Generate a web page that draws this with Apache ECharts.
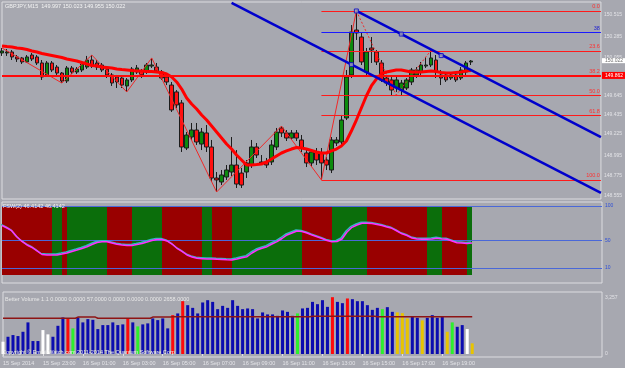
<!DOCTYPE html>
<html><head><meta charset="utf-8">
<script src="https://cdn.jsdelivr.net/npm/echarts@6/dist/echarts.min.js"></script>
<style>html,body{margin:0;padding:0;background:#a7a8b0;}#c{width:625px;height:368px;}</style>
</head><body><div id="c"></div>
<script>
// ---- main chart data (GBPJPY M15) : [open, close, low, high]
const ohlc = [
[150.103,150.125,150.071,150.157],[150.103,150.114,150.071,150.146],[150.114,150.060,150.027,150.135],
[150.060,150.038,150.006,150.081],[150.049,150.006,149.984,150.060],[150.006,150.060,149.995,150.081],
[150.081,150.038,150.016,150.103],[150.060,149.995,149.973,150.081],[149.995,149.843,149.811,150.027],
[149.865,149.995,149.843,150.016],[149.995,149.919,149.897,150.016],[149.951,149.886,149.865,149.973],
[149.886,149.800,149.778,149.897],[149.800,149.941,149.778,149.962],[149.941,149.897,149.876,149.962],
[149.897,149.930,149.876,149.951],[149.919,149.984,149.897,150.006],[149.951,150.027,149.930,150.071],
[150.027,149.962,149.941,150.081],[149.995,149.951,149.919,150.027],[149.973,149.919,149.897,149.995],
[149.930,149.865,149.832,149.951],[149.865,149.778,149.746,149.886],[149.843,149.789,149.724,149.865],
[149.832,149.756,149.724,149.854],[149.746,149.811,149.681,149.832],[149.811,149.930,149.789,149.951],
[149.897,149.941,149.876,149.973],[149.908,149.865,149.832,149.930],[149.897,149.973,149.876,149.995],
[149.962,149.973,149.941,150.049],[149.951,149.908,149.886,149.995],[149.897,149.832,149.811,149.919],
[149.843,149.789,149.756,149.865],[149.756,149.486,149.464,149.789],[149.681,149.540,149.507,149.702],
[149.562,149.085,149.031,149.594],[149.074,149.215,149.052,149.247],[149.193,149.269,149.161,149.345],
[149.269,149.139,149.107,149.345],[149.117,149.247,149.052,149.291],[149.237,149.085,149.031,149.323],
[149.085,148.749,148.706,149.161],[148.749,148.728,148.598,148.814],[148.706,148.782,148.673,148.836],
[148.760,148.836,148.728,148.890],[148.814,148.890,148.771,149.193],[148.890,148.684,148.641,149.052],
[148.803,148.673,148.641,148.858],[148.814,148.912,148.749,148.944],[148.890,149.085,148.858,149.161],
[149.085,148.998,148.966,149.128],[148.923,148.912,148.890,148.998],[148.923,148.890,148.858,148.966],
[148.923,149.107,148.890,149.161],[149.085,149.247,149.052,149.291],[149.291,149.237,149.193,149.312],
[149.237,149.182,149.150,149.269],[149.182,149.237,149.161,149.269],[149.237,149.182,149.150,149.269],
[149.161,149.074,149.031,149.215],[149.020,148.912,148.868,149.052],[148.912,149.031,148.879,149.052],
[149.031,148.944,148.890,149.074],[149.020,148.912,148.728,149.074],[148.944,148.890,148.836,148.977],
[148.836,149.161,148.803,149.193],[149.128,149.161,149.096,149.193],[149.139,149.377,149.107,149.432],
[149.399,149.843,149.377,149.919],[149.865,150.330,149.832,150.406],[150.352,150.320,150.244,150.558],
[150.276,150.006,149.973,150.320],[149.897,150.114,149.865,150.157],[150.157,150.135,149.995,150.276],
[150.114,150.006,149.973,150.135],[149.995,149.811,149.789,150.027],[149.832,149.778,149.746,149.865],
[149.811,149.702,149.648,149.843],[149.724,149.811,149.681,149.843],[149.702,149.778,149.648,149.811],
[149.724,149.811,149.702,149.832],[149.789,149.919,149.756,149.941],[149.865,149.919,149.832,149.951],
[149.897,149.973,149.865,150.006],[149.962,149.973,149.941,150.060],[149.973,150.049,149.951,150.135],
[150.027,149.897,149.832,150.081],[149.865,149.832,149.756,149.919],[149.865,149.811,149.789,149.897],
[149.832,149.865,149.811,149.897],[149.865,149.811,149.789,149.897],[149.832,149.919,149.811,149.951],
[149.897,149.995,149.865,150.016],[150.006,150.016,149.973,150.027]
];
const maValues = [
150.179,150.173,150.168,150.157,150.152,150.141,150.125,150.114,150.098,150.087,
150.076,150.065,150.054,150.038,150.027,150.016,150.000,149.984,149.968,149.962,
149.951,149.946,149.941,149.930,149.924,149.919,149.914,149.908,149.908,149.903,
149.903,149.897,149.892,149.876,149.843,149.789,149.713,149.616,149.551,149.497,
149.432,149.377,149.312,149.247,149.182,149.117,149.063,148.998,148.944,148.890,
148.890,148.895,148.901,148.923,148.955,148.988,149.020,149.042,149.063,149.080,
149.074,149.063,149.047,149.031,149.020,149.020,149.042,149.063,149.096,149.150,
149.258,149.377,149.507,149.637,149.746,149.821,149.876,149.897,149.908,149.919,
149.919,149.908,149.897,149.897,149.897,149.903,149.908,149.903,149.892,149.886,
149.886,149.892,149.897,149.908,149.914];
const zigzag = [[0,150.157],[12,149.778],[18,150.081],[25,149.681],[30,150.049],[43,148.598],
  [56,149.312],[64,148.728],[71,150.558]];
const zigzagLast = [[71,150.558],[79,149.648],[86,150.135]];
const channelLower = [[46,150.645],[120,148.587]];
const channelUpper = [[71,150.558],[120,149.193]];
const channelMarks = [[71,150.558],[80,150.308],[88,150.075],[70,149.977]];
const fibStart = 64;
const fibLevels = [150.558,150.126,149.859,149.643,149.427,148.728];
const fibNames = ['0.0','23.6','38.2','50.0','61.8','100.0'];
const blueLevel = 150.330, blueName = '38';
const hLine = 149.862;
const lastPrice = 150.022;
const priceTicks = [150.515,150.285,150.055,149.645,149.435,149.225,148.995,148.775,148.555];

// ---- oscillator panel
const oscValues = [
71.7,68.1,63.8,55.1,48.6,43.5,39.9,34.8,29.7,29.0, 29.0,29.0,30.4,31.9,34.1,36.2,38.4,41.0,44.2,47.1,
48.3,48.3,46.4,44.5,43.5,42.8,42.8,44.2,45.7,47.8, 50.0,51.5,51.5,49.3,44.9,38.7,34.1,29.0,26.1,24.2,
23.7,23.2,23.2,22.8,22.5,22.0,21.8,23.2,24.9,26.5, 31.9,36.2,38.7,41.0,44.9,48.3,52.9,58.0,60.9,63.8,
63.1,60.9,58.0,55.5,52.9,50.0,48.3,48.6,52.2,62.3, 69.1,72.5,74.9,74.9,74.6,73.2,71.7,69.6,67.7,63.8,
59.7,57.3,53.6,52.2,51.7,51.7,52.2,53.2,52.2,51.7, 49.3,46.8,46.4,45.8,46.4];
const oscLevels = [100,50,10];
const bandEdges = [0,10,12,13,21,26,32,40,42,46,60,66,73,85,88,93,94];
const bandTypes = ['D','U','D','U','D','U','D','U','D','U','D','U','D','U','D','U'];

// ---- volume panel
const volumes = [714,1003,1102,1044,1293,1839,754,754,1392,1143,1003,1641,2129,2071,1491,2129,1839,2030,1989,1450,
1682,1682,1839,1682,1723,2071,1839,1607,1723,1781,2071,1972,2071,1491,2262,2361,3074,2842,2685,2361,
2999,3132,3033,2610,2801,2685,3132,2801,2610,2651,2610,2071,2419,2303,2303,2221,2535,2453,2221,2361,
2651,2685,3033,2900,3132,2743,3306,3033,2958,3231,3190,3074,3074,2842,2569,2685,2610,2726,2453,2419,
2378,2071,2163,2105,1955,2105,2262,2105,2163,1293,1839,1583,1682,1450,621];
const volTypes = ['W','B','B','B','B','B','B','B','W','W','B','B','B','R','G','B','B','B','B','B',
'B','B','B','B','B','R','B','G','B','B','B','B','B','B','R','B','R','B','B','B',
'B','B','B','B','B','B','B','B','B','B','B','B','B','B','B','B','B','B','B','G',
'B','B','B','B','B','B','R','B','B','R','B','B','B','B','B','B','G','B','B','Y',
'Y','Y','B','B','Y','B','B','B','B','Y','G','B','B','W','Y'];
const volAvg = [];
const volAvgSteps = [[15,2080],[4,2150],[11,2080],[4,2150],[28,2170],[13,2200],[20,2170]];
volAvgSteps.forEach(([n,v])=>{for(let k=0;k<n;k++) volAvg.push(v);});
const timeLabels = ['15 Sep 2014','15 Sep 23:00','16 Sep 01:00','16 Sep 03:00','16 Sep 05:00','16 Sep 07:00',
  '16 Sep 09:00','16 Sep 11:00','16 Sep 13:00','16 Sep 15:00','16 Sep 17:00','16 Sep 19:00'];

// ---- build
const NCAT = 121;
const cats = Array.from({length:NCAT},(_,i)=>String(i));
const FONT = 'Liberation Sans';
const volColor = {B:'#0b0bb0',R:'#ff0a0a',G:'#2cf02c',Y:'#e8c400',W:'#ffffff'};
const bandColor = {D:'#990000',U:'#0b6e0b'};
const frame = {show:true,borderColor:'#dcdce0',borderWidth:1,backgroundColor:'transparent'};
const FIB_RED = '#ff1a1a';
const BLUE_LVL = '#1a1aff';

const xBase = (gi, showLabels) => ({
  type:'category', gridIndex:gi, data:cats, boundaryGap:false,
  axisLine:{show:false}, splitLine:{show:false},
  axisTick:{show:showLabels, length:2, lineStyle:{color:'#e0e0e4'}, interval:(i)=>i%8===0 && i<=88},
  axisLabel:showLabels ? {show:true, interval:(i)=>i%8===0 && i<=88, formatter:(v,i)=>timeLabels[Math.round(i/8)] || '',
     align:'left', fontSize:5.5, color:'#e4e4e8', fontFamily:FONT, margin:3} : {show:false}
});

const fibMarks = fibLevels.map((lv,k)=>[
  {coord:[fibStart,lv], lineStyle:{color:FIB_RED,width:1.2,type:'solid'},
   label:{show:true,position:'insideEndTop',formatter:fibNames[k],color:'#ff3030',fontSize:5.5,fontFamily:FONT,distance:1}},
  {coord:[120,lv], lineStyle:{color:FIB_RED,width:1.2,type:'solid'}}]);
const blueMarks = [[
  {coord:[fibStart,blueLevel], lineStyle:{color:BLUE_LVL,width:1.2,type:'solid'},
   label:{show:true,position:'insideEndTop',formatter:blueName,color:'#2020d0',fontSize:5.5,fontFamily:FONT,distance:1}},
  {coord:[120,blueLevel], lineStyle:{color:BLUE_LVL,width:1.2,type:'solid'}}]];

const bands = [];
for (let k=0;k<bandTypes.length;k++){
  bands.push([{xAxis:bandEdges[k], yAxis:0, itemStyle:{color:bandColor[bandTypes[k]],opacity:1}},{xAxis:bandEdges[k+1], yAxis:100}]);
}

const option = {
  animation:false,
  backgroundColor:'#a7a8b0',
  title:[
    {text:'GBPJPY,M15  149.997 150.023 149.955 150.022', left:5, top:3, padding:0,
      textStyle:{fontSize:5.5,color:'#f4f4f4',fontWeight:'normal',fontFamily:FONT}},
    {text:'FSW(2) 46.4142 46.4142', left:3, top:203, padding:0,
      textStyle:{fontSize:5.5,color:'#f4f4f4',fontWeight:'normal',fontFamily:FONT}},
    {text:'Better Volume 1.1 0.0000 0.0000 57.0000 0.0000 0.0000 0.0000 2658.0000', left:5, top:296, padding:0,
      textStyle:{fontSize:5.5,color:'#e8e8e8',fontWeight:'normal',fontFamily:FONT}},
    {text:'Copyright \u00a9 Emini-Watch.com 2011-2014 The Quantum Software Corp', left:2, top:349, padding:0,
      textStyle:{fontSize:5.5,color:'#f0f0f0',fontWeight:'normal',fontFamily:FONT}}
  ],
  grid:[
    Object.assign({left:2,right:23,top:2,height:197},frame),
    Object.assign({left:2,right:23,top:202,height:81},frame),
    Object.assign({left:2,right:23,top:292,height:65},frame)
  ],
  xAxis:[xBase(0,false), xBase(1,false), xBase(2,true)],
  yAxis:[
    {type:'value', gridIndex:0, position:'right', min:148.5218, max:150.6553, scale:true,
      splitLine:{show:false}, axisLine:{show:false}, axisTick:{show:false},
      axisLabel:{customValues:priceTicks, formatter:(v)=>v.toFixed(3), fontSize:5, color:'#e2e2e6', fontFamily:FONT, margin:3}},
    {type:'value', gridIndex:1, position:'right', min:-11.6, max:105.8,
      splitLine:{show:false}, axisLine:{show:false}, axisTick:{show:false},
      axisLabel:{customValues:oscLevels, fontSize:5, color:'#2f4fd8', fontFamily:FONT, margin:3}},
    {type:'value', gridIndex:2, position:'right', min:-175, max:3608,
      splitLine:{show:false}, axisLine:{show:false}, axisTick:{show:false},
      axisLabel:{customValues:[3257,0], fontSize:5, color:'#e2e2e6', fontFamily:FONT, margin:3}}
  ],
  series:[
    {type:'line', xAxisIndex:0, yAxisIndex:0, data:[], symbol:'none', z:2,
      markLine:{silent:true, symbol:['none','none'], lineStyle:{color:FIB_RED,width:1.2,type:'solid'}, data:fibMarks}},
    {type:'line', xAxisIndex:0, yAxisIndex:0, data:[], symbol:'none', z:2,
      markLine:{silent:true, symbol:['none','none'], lineStyle:{color:BLUE_LVL,width:1.2,type:'solid'}, data:blueMarks}},
    {type:'candlestick', xAxisIndex:0, yAxisIndex:0, data:ohlc, barWidth:4, z:3,
      itemStyle:{color:'#0c8a0c', color0:'#ff1010', borderColor:'#1c1c1c', borderColor0:'#1c1c1c', borderWidth:1},
      markLine:{silent:true, symbol:['none','none'], z:6,
        data:[
          {yAxis:hLine, lineStyle:{color:'#ff0a0a',width:2,type:'solid'},
            label:{show:true,position:'end',distance:1,formatter:hLine.toFixed(3),backgroundColor:'#ff0000',color:'#ffffff',
              fontSize:5,fontFamily:FONT,padding:[1,3,1,3]}},
          {yAxis:lastPrice, lineStyle:{color:'rgba(0,0,0,0)',width:0},
            label:{show:true,position:'end',distance:1,formatter:lastPrice.toFixed(3),backgroundColor:'#ffffff',color:'#707070',
              fontSize:5,fontFamily:FONT,padding:[0,3,0,3]}}
        ]}},
    {type:'line', xAxisIndex:0, yAxisIndex:0, data:maValues, symbol:'none', z:5,
      lineStyle:{color:'#ff0000',width:3}},
    {type:'line', xAxisIndex:0, yAxisIndex:0, data:zigzag, symbol:'none', z:4,
      lineStyle:{color:'#f02828',width:1}},
    {type:'line', xAxisIndex:0, yAxisIndex:0, data:zigzagLast, symbol:'none', z:4,
      lineStyle:{color:'#f02828',width:1,type:[2,2]}},
    {type:'line', xAxisIndex:0, yAxisIndex:0, data:channelLower, symbol:'none', z:6,
      lineStyle:{color:'#0000cc',width:2.5}},
    {type:'line', xAxisIndex:0, yAxisIndex:0, data:channelUpper, symbol:'none', z:6,
      lineStyle:{color:'#0000cc',width:2.5}},
    {type:'scatter', xAxisIndex:0, yAxisIndex:0, data:channelMarks, symbol:'rect', symbolSize:4, z:7,
      itemStyle:{color:'#a7a8b0',borderColor:'#0000cc',borderWidth:1}},
    {type:'line', xAxisIndex:1, yAxisIndex:1, data:oscValues, symbol:'none', z:5,
      lineStyle:{color:'#ff30ff',width:1.5,shadowColor:'#30b8c0',shadowOffsetX:-1,shadowOffsetY:-1,shadowBlur:0},
      markArea:{silent:true, data:bands},
      markLine:{silent:true, symbol:['none','none'], z:4,
        data:oscLevels.map(v=>({yAxis:v, lineStyle:{color:'#4a68d8',width:1,type:'solid'}, label:{show:false}}))}},
    {type:'bar', xAxisIndex:2, yAxisIndex:2, barWidth:3, z:3,
      data:volumes.map((v,i)=>({value:v, itemStyle:{color:volColor[volTypes[i]]}}))},
    {type:'line', xAxisIndex:2, yAxisIndex:2, data:volAvg, symbol:'none', step:'middle', z:4,
      lineStyle:{color:'#8e1414',width:1.5}}
  ]
};
const chart = echarts.init(document.getElementById('c'), null, {renderer:'canvas'});
chart.setOption(option);
</script>
</body></html>
